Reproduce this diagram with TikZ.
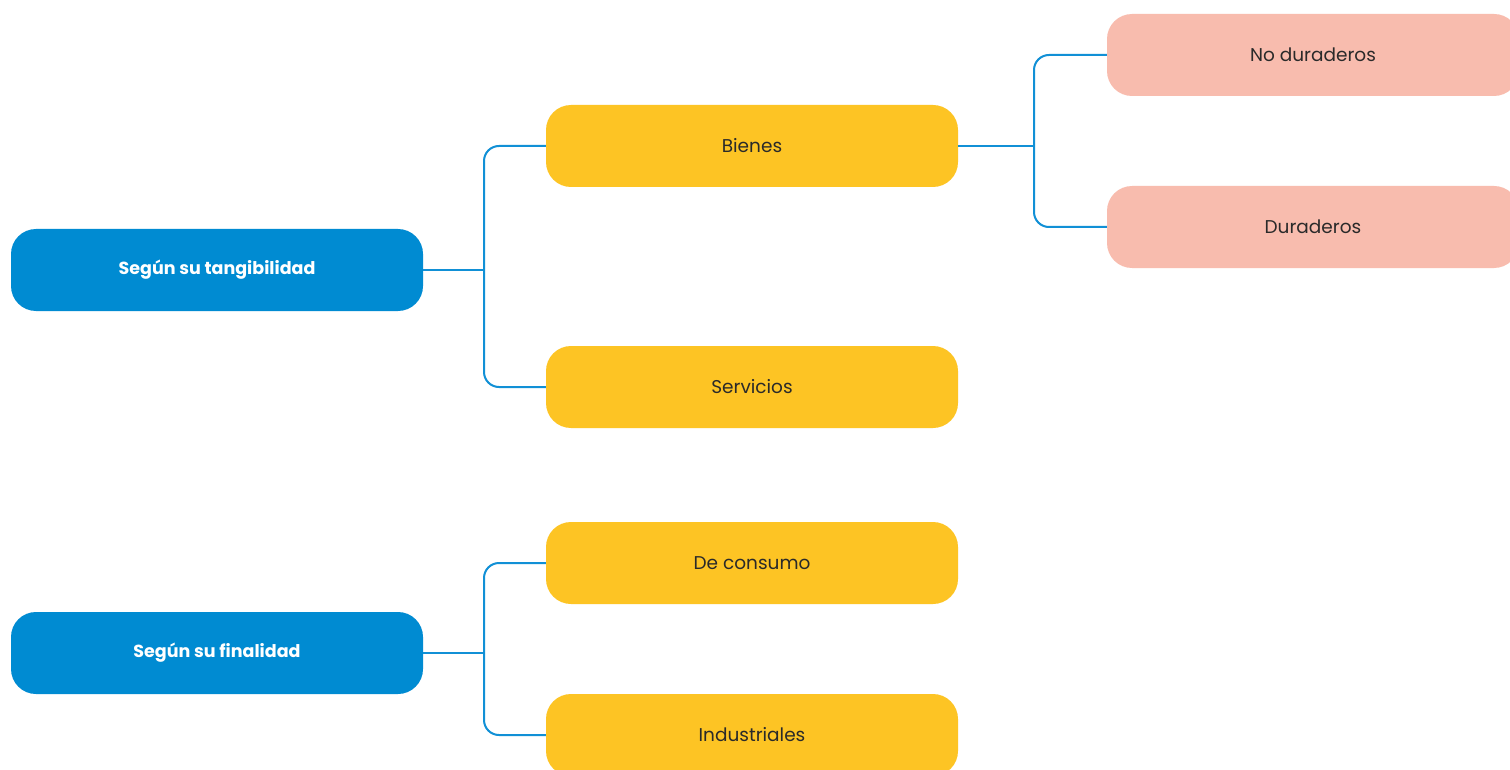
\documentclass[tikz,border=0pt]{standalone}
\usepackage{fontspec}
\setmainfont{Poppins}
\definecolor{nodeblue}{HTML}{008BD2}
\definecolor{lineblue}{HTML}{1190D6}
\definecolor{boxyellow}{HTML}{FDC424}
\definecolor{boxpink}{HTML}{F8BCAE}
\definecolor{txtdark}{HTML}{2A2A2A}
\begin{document}
\begin{tikzpicture}[x=1pt,y=-1pt,
  box/.style={rounded corners=25pt, minimum width=412pt, minimum height=82pt, inner sep=0pt, font=\fontsize{18.5}{22}\selectfont, text=txtdark},
  rootbox/.style={box, fill=nodeblue, text=white, font=\fontsize{17.5}{20}\selectfont\bfseries},
  midbox/.style={box, fill=boxyellow},
  leafbox/.style={box, fill=boxpink},
  conn/.style={draw=lineblue, line width=2pt, rounded corners=15pt}
]
\useasboundingbox[fill=white] (0,0) rectangle (1510,770);
\node[rootbox] (tang) at (217,270) {Según su tangibilidad};
\node[rootbox] (fin) at (217,653) {Según su finalidad};
\node[midbox] (bienes) at (752,146) {Bienes};
\node[midbox] (serv) at (752,387) {Servicios};
\node[midbox] (cons) at (752,563) {De consumo};
\node[midbox] (ind) at (752,735) {Industriales};
\node[leafbox] (nodur) at (1313,55) {No duraderos};
\node[leafbox] (dur) at (1313,227) {Duraderos};
\coordinate (j1) at (484,270);
\coordinate (j2) at (1034,146);
\coordinate (j3) at (484,653);
\draw[conn] (tang.east) -- (j1);
\draw[conn] (bienes.west) -| (j1) |- (serv.west);
\draw[conn] (bienes.east) -- (j2);
\draw[conn] (nodur.west) -| (j2) |- (dur.west);
\draw[conn] (fin.east) -- (j3);
\draw[conn] (cons.west) -| (j3) |- (ind.west);
\end{tikzpicture}
\end{document}
